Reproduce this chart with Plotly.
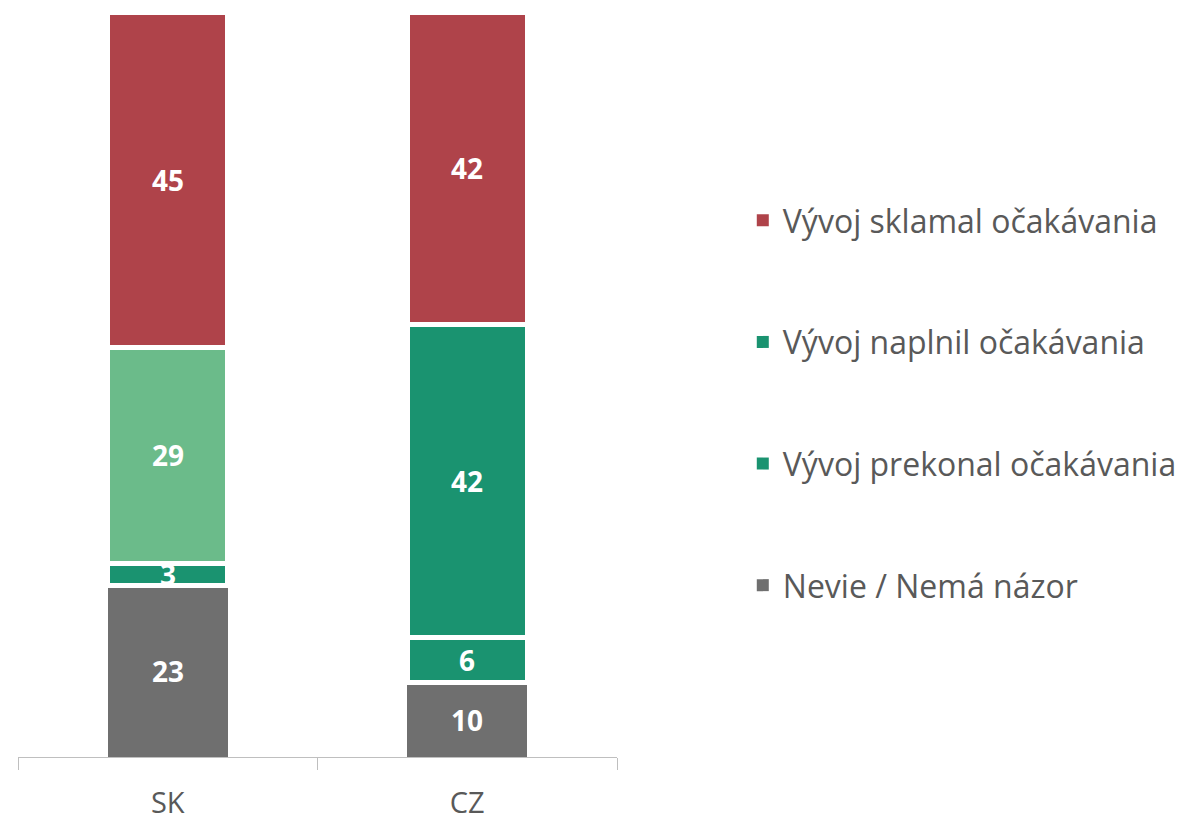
import plotly.graph_objects as go

categories = ["SK", "CZ"]
nevie = [23, 10]
prekonal = [3, 6]
naplnil = [29, 42]
sklamal = [45, 42]

names = ["Nevie / Nemá názor", "Vývoj prekonal očakávania",
         "Vývoj naplnil očakávania", "Vývoj sklamal očakávania"]

RED = "#AF434A"
LGREEN = "#6BBB8A"
DGREEN = "#1A9370"
GRAY = "#6F6F6F"
FONT = "Open Sans"

series = [nevie, prekonal, naplnil, sklamal]
bar_colors = [GRAY, DGREEN, [LGREEN, DGREEN], RED]
legend_colors = [GRAY, DGREEN, DGREEN, RED]
line_widths = [0, 5, 5, 5]

fig = go.Figure()
for vals, col, lw in zip(series, bar_colors, line_widths):
    fig.add_trace(go.Bar(x=categories, y=vals, width=0.4, showlegend=False,
                         marker=dict(color=col, line=dict(width=lw, color="white")),
                         hoverinfo="skip"))

# legend-only entries (plain icons), top-to-bottom order
groups = ["a", "b", "c", "d"]
for name, col, g in zip(names[::-1], legend_colors[::-1], groups):
    fig.add_trace(go.Bar(x=[categories[0]], y=[None], name=name, legendgroup=g,
                         marker=dict(color=col, line=dict(width=0)), hoverinfo="skip"))

# value labels at segment midpoints
annotations = []
for ci, cat in enumerate(categories):
    base = 0
    for vals in series:
        v = vals[ci]
        annotations.append(dict(x=cat, y=base + v / 2, text=str(v), showarrow=False,
                                font=dict(color="white", size=28, family=FONT, weight="bold"),
                                xref="x", yref="y"))
        base += v

fig.update_layout(
    barmode="stack",
    width=1192, height=821,
    margin=dict(l=10, r=583, t=4, b=72),
    paper_bgcolor="white", plot_bgcolor="white",
    font=dict(family=FONT, color="#595959"),
    showlegend=True,
    annotations=annotations,
    legend=dict(traceorder="grouped", tracegroupgap=77,
                x=1.21, xanchor="left", y=0.757, yanchor="top",
                font=dict(size=32, color="#595959", family=FONT),
                bgcolor="rgba(0,0,0,0)"),
    xaxis=dict(range=[-0.5, 1.5], showline=True, linecolor="#BFBFBF", linewidth=1,
               ticks="outside", tickson="boundaries", ticklen=12, tickcolor="#BFBFBF",
               tickfont=dict(size=29, color="#595959", family=FONT), showgrid=False,
               zeroline=False, ticklabelstandoff=20),
    yaxis=dict(range=[0, 100], visible=False, showgrid=False, zeroline=False),
)

fig.write_html("out.html")
